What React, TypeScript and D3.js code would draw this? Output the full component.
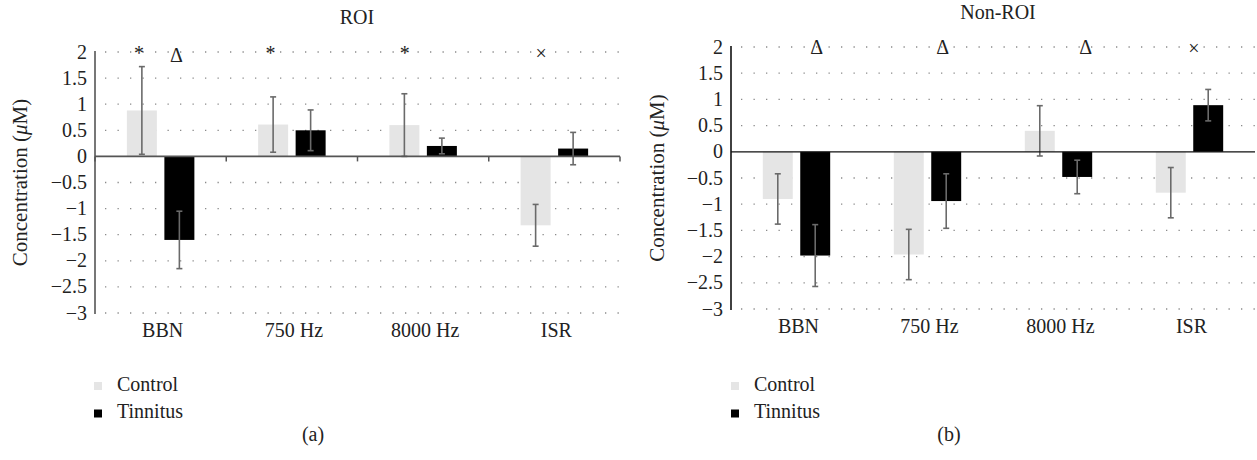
import React from "react";
import * as d3 from "d3";

const categories = ["BBN", "750 Hz", "8000 Hz", "ISR"];
const seriesNames = ["Control", "Tinnitus"];
const yTicks = [2, 1.5, 1, 0.5, 0, -0.5, -1, -1.5, -2, -2.5, -3];

// Panel (a) ROI
const roiControl = [0.88, 0.61, 0.6, -1.32];
const roiControlErr = [0.84, 0.53, 0.6, 0.4];
const roiTinnitus = [-1.6, 0.5, 0.2, 0.15];
const roiTinnitusErr = [0.55, 0.39, 0.15, 0.31];
const roiMarkers = [
  { cat: "BBN", sym: "*" },
  { cat: "BBN", sym: "Δ" },
  { cat: "750 Hz", sym: "*" },
  { cat: "8000 Hz", sym: "*" },
  { cat: "ISR", sym: "×" },
];

// Panel (b) Non-ROI
const nonControl = [-0.9, -1.96, 0.4, -0.78];
const nonControlErr = [0.48, 0.48, 0.48, 0.48];
const nonTinnitus = [-1.98, -0.94, -0.48, 0.89];
const nonTinnitusErr = [0.59, 0.52, 0.32, 0.3];
const nonMarkers = [
  { cat: "BBN", sym: "Δ" },
  { cat: "750 Hz", sym: "Δ" },
  { cat: "8000 Hz", sym: "Δ" },
  { cat: "ISR", sym: "×" },
];

// layout (not data): marker horizontal position as fraction of category band
const roiMarkerPos = [0.335, 0.62, 0.338, 0.36, 0.4];
const nonMarkerPos = [0.654, 0.616, 0.707, 0.534];

const FONT = "Liberation Serif, DejaVu Serif, serif";
const COLORS = ["#e5e5e5", "#000000"];

function fmt(v: number) {
  return v < 0 ? "\u2212" + String(Math.abs(v)) : String(v);
}

type PanelProps = {
  x0: number;
  x1: number;
  yTop: number;
  yBot: number;
  title: string;
  titleX: number;
  titleY: number;
  control: number[];
  controlErr: number[];
  tinnitus: number[];
  tinnitusErr: number[];
  markers: { cat: string; sym: string }[];
  markerPos: number[];
  markerDy: number;
  labelX: number;
  axisColor: string;
  zeroWidth: number;
  showTicks: boolean;
  legendX: number;
  caption: string;
  captionX: number;
};

function Panel(p: PanelProps) {
  const y = d3.scaleLinear().domain([-3, 2]).range([p.yBot, p.yTop]);
  const x = d3.scaleBand<string>().domain(categories).range([p.x0, p.x1]).paddingInner(0).paddingOuter(0);
  const xs = d3
    .scaleBand<string>()
    .domain(seriesNames)
    .range([0, x.bandwidth()])
    .paddingInner(0.2)
    .paddingOuter(0.85);
  const values = [p.control, p.tinnitus];
  const errs = [p.controlErr, p.tinnitusErr];
  const y0 = y(0);
  const fs = 20;
  return (
    <g fontFamily={FONT} fill="#222">
      <text x={p.titleX} y={p.titleY} textAnchor="middle" fontSize={fs}>
        {p.title}
      </text>
      {/* grid */}
      {yTicks
        .filter((t) => t !== 0)
        .map((t) => (
          <line
            key={"g" + t}
            x1={p.x0 + 10}
            x2={p.x1}
            y1={y(t)}
            y2={y(t)}
            stroke="#8a8a8a"
            strokeWidth={1.3}
            strokeDasharray="1.3 11.2"
          />
        ))}
      {/* tick labels */}
      {yTicks.map((t) => (
        <text key={"t" + t} x={p.x0 - 8} y={y(t) + 6.5} textAnchor="end" fontSize={fs}>
          {fmt(t)}
        </text>
      ))}
      {/* y label */}
      <text
        transform={`translate(${p.labelX},${(p.yTop + p.yBot) / 2}) rotate(-90)`}
        textAnchor="middle"
        dominantBaseline="middle"
        fontSize={21}
      >
        Concentration (<tspan fontStyle="italic">μ</tspan>M)
      </text>
      {/* bars */}
      {values.map((vals, si) =>
        vals.map((v, ci) => {
          const bx = (x(categories[ci]) as number) + (xs(seriesNames[si]) as number);
          return (
            <rect
              key={`b${si}-${ci}`}
              x={bx}
              y={Math.min(y(v), y0)}
              width={xs.bandwidth()}
              height={Math.abs(y(v) - y0)}
              fill={COLORS[si]}
            />
          );
        })
      )}
      {/* error bars */}
      {values.map((vals, si) =>
        vals.map((v, ci) => {
          const cx = (x(categories[ci]) as number) + (xs(seriesNames[si]) as number) + xs.bandwidth() / 2;
          const e = errs[si][ci];
          const yt = y(v + e);
          const yb = y(v - e);
          return (
            <g key={`e${si}-${ci}`} stroke="#6a6a6a" strokeWidth={1.6}>
              <line x1={cx} x2={cx} y1={yt} y2={yb} />
              <line x1={cx - 3} x2={cx + 3} y1={yt} y2={yt} />
              <line x1={cx - 3} x2={cx + 3} y1={yb} y2={yb} />
            </g>
          );
        })
      )}
      {/* zero axis */}
      <line x1={p.x0} x2={p.x1} y1={y0} y2={y0} stroke={p.axisColor} strokeWidth={p.zeroWidth} />
      {p.showTicks &&
        [...categories.map((c) => x(c) as number), p.x1].map((tx, i) => (
          <line key={"xt" + i} x1={tx} x2={tx} y1={y0} y2={y0 + 5} stroke={p.axisColor} strokeWidth={1.5} />
        ))}
      {/* y axis */}
      <line x1={p.x0} x2={p.x0} y1={p.yTop - 1} y2={p.yBot + 1} stroke={p.axisColor} strokeWidth={1.6} />
      {/* category labels */}
      {categories.map((c) => (
        <text
          key={"c" + c}
          x={(x(c) as number) + x.bandwidth() / 2 + 2}
          y={p.yBot + 24}
          textAnchor="middle"
          fontSize={fs}
        >
          {c}
        </text>
      ))}
      {/* markers */}
      {p.markers.map((m, i) => (
        <text
          key={"m" + i}
          x={(x(m.cat) as number) + x.bandwidth() * p.markerPos[i]}
          y={y(2) + (m.sym === "Δ" ? p.markerDy : 8)}
          textAnchor="middle"
          fontSize={fs}
          fill="#222"
        >
          {m.sym}
        </text>
      ))}
      {/* legend */}
      {seriesNames.map((s, i) => (
        <g key={"l" + s}>
          <rect x={p.legendX} y={382 + i * 27.5} width={8} height={8} fill={COLORS[i]} />
          <text x={p.legendX + 23} y={391 + i * 27} fontSize={fs}>
            {s}
          </text>
        </g>
      ))}
      <text x={p.captionX} y={441} textAnchor="middle" fontSize={fs}>
        {p.caption}
      </text>
    </g>
  );
}

export default function App() {
  return (
    <svg width={1257} height={460} style={{ position: "absolute", left: 0, top: 0, background: "#fff" }}>
      <rect width={1257} height={460} fill="#fff" />
      <Panel
        x0={95}
        x1={620}
        yTop={52}
        yBot={313}
        title="ROI"
        titleX={357}
        titleY={24}
        control={roiControl}
        controlErr={roiControlErr}
        tinnitus={roiTinnitus}
        tinnitusErr={roiTinnitusErr}
        markers={roiMarkers}
        markerPos={roiMarkerPos}
        markerDy={10}
        labelX={22}
        axisColor="#555"
        zeroWidth={1.8}
        showTicks={true}
        legendX={94}
        caption="(a)"
        captionX={313}
      />
      <Panel
        x0={731}
        x1={1255}
        yTop={47}
        yBot={309}
        title="Non-ROI"
        titleX={998}
        titleY={19}
        control={nonControl}
        controlErr={nonControlErr}
        tinnitus={nonTinnitus}
        tinnitusErr={nonTinnitusErr}
        markers={nonMarkers}
        markerPos={nonMarkerPos}
        markerDy={7}
        labelX={659}
        axisColor="#111"
        zeroWidth={1.3}
        showTicks={false}
        legendX={731}
        caption="(b)"
        captionX={949}
      />
    </svg>
  );
}
